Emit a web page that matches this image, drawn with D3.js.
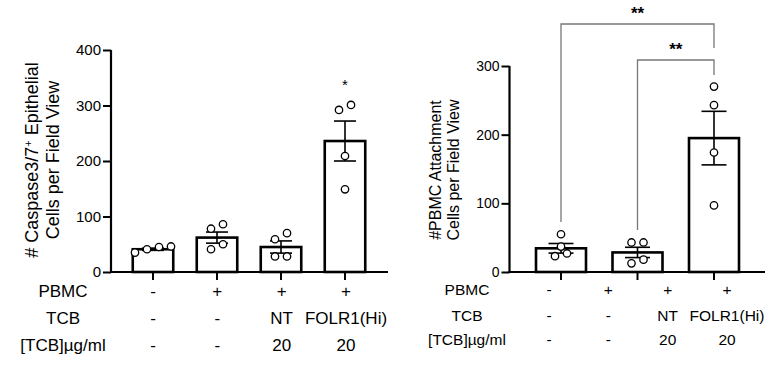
<!DOCTYPE html>
<html>
<head>
<meta charset="utf-8">
<script src="https://cdn.jsdelivr.net/npm/d3@7"></script>
<style>
  body { margin: 0; background: #fff; }
  svg { display: block; font-family: "Liberation Sans", Arial, sans-serif; }
</style>
</head>
<body>
<svg id="fig" width="784" height="373"></svg>
<script>
// ---- left panel: caspase 3/7+ cells ----
var leftGroups = ["g1", "g2", "g3", "g4"];
var leftMeans = [41, 62, 45, 236];
var leftSem = [2, 10, 11, 36];
var leftPoints = [[35, 41, 45, 46], [41, 50, 78, 86], [28, 28, 59, 70], [149, 209, 292, 301]];
var leftTicks = [0, 100, 200, 300, 400];
var leftStars = ["", "", "", "*"];

// ---- right panel: PBMC attachment ----
var rightGroups = ["g1", "g2", "g3"];
var rightMeans = [34.5, 28.5, 195];
var rightSem = [7, 7.5, 39];
var rightPoints = [[23, 27, 37, 55], [12.6, 18, 43, 43], [97, 174, 243, 270]];
var rightTicks = [0, 100, 200, 300];

// condition table (same for both panels)
var rowLabels = ["PBMC", "TCB", "[TCB]µg/ml"];
var pbmcRow = ["-", "+", "+", "+"];
var tcbRow = ["-", "-", "NT", "FOLR1(Hi)"];
var concRow = ["-", "-", "20", "20"];

var svg = d3.select("#fig");

// spread points that sit at about the same height side by side
function swarm(vals, y, gap, step) {
  var sorted = vals.slice().sort(d3.ascending);
  var groups = [], cur = [];
  sorted.forEach(function(v) {
    if (cur.length && Math.abs(y(cur[0]) - y(v)) >= gap) { groups.push(cur); cur = []; }
    cur.push(v);
  });
  if (cur.length) groups.push(cur);
  var out = [];
  groups.forEach(function(g) {
    g.forEach(function(v, i) { out.push({v: v, dx: (i - (g.length - 1) / 2) * step}); });
  });
  return out;
}

function panel(o) {
  var g = svg.append("g");
  var y = d3.scaleLinear().domain(o.domain).range([o.y0, o.y1]);
  var x = d3.scalePoint().domain(o.groups).range(o.xr).padding(0.5);

  // bars
  g.selectAll("rect.bar").data(o.means).enter().append("rect")
      .attr("x", function(d, i) { return x(o.groups[i]) - o.bw / 2; })
      .attr("y", function(d) { return y(d); })
      .attr("width", o.bw)
      .attr("height", function(d) { return y(0) - y(d); })
      .attr("fill", "#fff")
      .attr("stroke", "#000")
      .attr("stroke-width", 2.6);

  // error bars (mean +/- sem)
  var eb = g.selectAll("g.err").data(o.means).enter().append("g")
      .attr("stroke", "#000").attr("stroke-width", 1.6);
  eb.append("line")
      .attr("x1", function(d, i) { return x(o.groups[i]); })
      .attr("x2", function(d, i) { return x(o.groups[i]); })
      .attr("y1", function(d, i) { return y(d + o.sem[i]); })
      .attr("y2", function(d, i) { return y(d - o.sem[i]); });
  [1, -1].forEach(function(s) {
    eb.append("line")
        .attr("x1", function(d, i) { return x(o.groups[i]) - o.cap / 2; })
        .attr("x2", function(d, i) { return x(o.groups[i]) + o.cap / 2; })
        .attr("y1", function(d, i) { return y(d + s * o.sem[i]); })
        .attr("y2", function(d, i) { return y(d + s * o.sem[i]); });
  });

  // individual points
  o.points.forEach(function(vals, i) {
    g.selectAll(null).data(swarm(vals, y, 8, 12)).enter().append("circle")
        .attr("cx", function(d) { return x(o.groups[i]) + d.dx; })
        .attr("cy", function(d) { return y(d.v); })
        .attr("r", 3.7)
        .attr("fill", "#fff")
        .attr("stroke", "#000")
        .attr("stroke-width", 1.3);
  });

  // y axis
  var ya = g.append("g")
      .attr("transform", "translate(" + o.xa + ",0)")
      .call(d3.axisLeft(y).tickValues(o.ticks).tickSize(8).tickPadding(2));
  ya.select(".domain").attr("stroke-width", 2.2).attr("d", "M0," + y(o.domain[1]) + "V" + y(0));
  ya.selectAll(".tick line").attr("stroke-width", 2);
  ya.selectAll(".tick text").attr("font-size", o.tickFont).attr("font-family", null).attr("fill", "#000");

  // x axis line with ticks at bar centres
  var xa = g.append("g").attr("transform", "translate(0," + y(0) + ")");
  xa.append("line").attr("x1", o.xa - 1).attr("x2", o.xend)
      .attr("stroke", "#000").attr("stroke-width", 2.2);
  xa.selectAll("line.t").data(o.groups).enter().append("line")
      .attr("x1", function(d) { return x(d); }).attr("x2", function(d) { return x(d); })
      .attr("y1", 0).attr("y2", 8)
      .attr("stroke", "#000").attr("stroke-width", 2);

  // y title, two lines
  var t = g.append("text")
      .attr("transform", "translate(" + o.titleX + "," + o.titleY + ") rotate(-90)")
      .attr("text-anchor", "middle")
      .attr("font-size", o.titleFont);
  o.title1(t.append("tspan").attr("x", 0).attr("dy", 0));
  t.append("tspan").attr("x", 0).attr("dy", o.titleFont * 1.15).text(o.title2);

  // condition table
  var tx = d3.scalePoint().domain(d3.range(4)).range(o.tableX);
  [pbmcRow, tcbRow, concRow].forEach(function(row, r) {
    g.append("text").attr("x", o.labelX).attr("y", o.rowY[r])
        .attr("text-anchor", "middle").attr("dominant-baseline", "middle")
        .attr("font-size", o.tableFont).text(rowLabels[r]);
    g.selectAll(null).data(row).enter().append("text")
        .attr("x", function(d, i) { return tx(i); })
        .attr("y", o.rowY[r])
        .attr("text-anchor", "middle").attr("dominant-baseline", "middle")
        .attr("font-size", o.tableFont)
        .text(function(d) { return d; });
  });
  return {g: g, x: x, y: y};
}

var L = panel({
  groups: leftGroups, means: leftMeans, sem: leftSem, points: leftPoints, ticks: leftTicks,
  domain: [0, 400], y0: 272, y1: 50, xr: [121, 377], xa: 111, xend: 388,
  bw: 40.5, cap: 22, tickFont: 15, titleFont: 18, tableFont: 17,
  titleX: 38, titleY: 160,
  title1: function(s) {
    s.text("# Caspase3/7");
    s.append("tspan").attr("baseline-shift", "super").attr("font-size", 11).text("+");
    s.append("tspan").text(" Epithelial");
  },
  title2: "Cells per Field View",
  tableX: [153, 346], labelX: 63, rowY: [293, 320, 347]
});

// significance star on the left panel
L.g.selectAll(null).data(leftStars).enter().append("text")
    .attr("x", function(d, i) { return L.x(leftGroups[i]); })
    .attr("y", L.y(335) + 4)
    .attr("text-anchor", "middle")
    .attr("font-size", 15)
    .text(function(d) { return d; });

var R = panel({
  groups: rightGroups, means: rightMeans, sem: rightSem, points: rightPoints, ticks: rightTicks,
  domain: [0, 300], y0: 272, y1: 66, xr: [522.75, 752.25], xa: 509.5, xend: 765,
  bw: 50, cap: 25, tickFont: 14, titleFont: 16, tableFont: 15.5,
  titleX: 441, titleY: 170,
  title1: function(s) { s.text("#PBMC Attachment"); },
  title2: "Cells per Field View",
  tableX: [549, 727], labelX: 467, rowY: [291, 317, 341]
});

// comparison brackets: [from, to, bracket y, left leg end, right leg end]
var brackets = [
  {a: "g1", b: "g3", y: 24, ya: 222, yb: 48},
  {a: "g2", b: "g3", y: 60, ya: 230, yb: 75}
];
brackets.forEach(function(k) {
  var x1 = R.x(k.a), x2 = R.x(k.b);
  R.g.append("path")
      .attr("d", "M" + x1 + "," + k.ya + "V" + k.y + "H" + x2 + "V" + k.yb)
      .attr("fill", "none").attr("stroke", "#777").attr("stroke-width", 1.3);
  R.g.append("text")
      .attr("x", (x1 + x2) / 2).attr("y", k.y - 5)
      .attr("text-anchor", "middle").attr("font-size", 17).attr("font-weight", "bold")
      .text("**");
});
</script>
</body>
</html>
